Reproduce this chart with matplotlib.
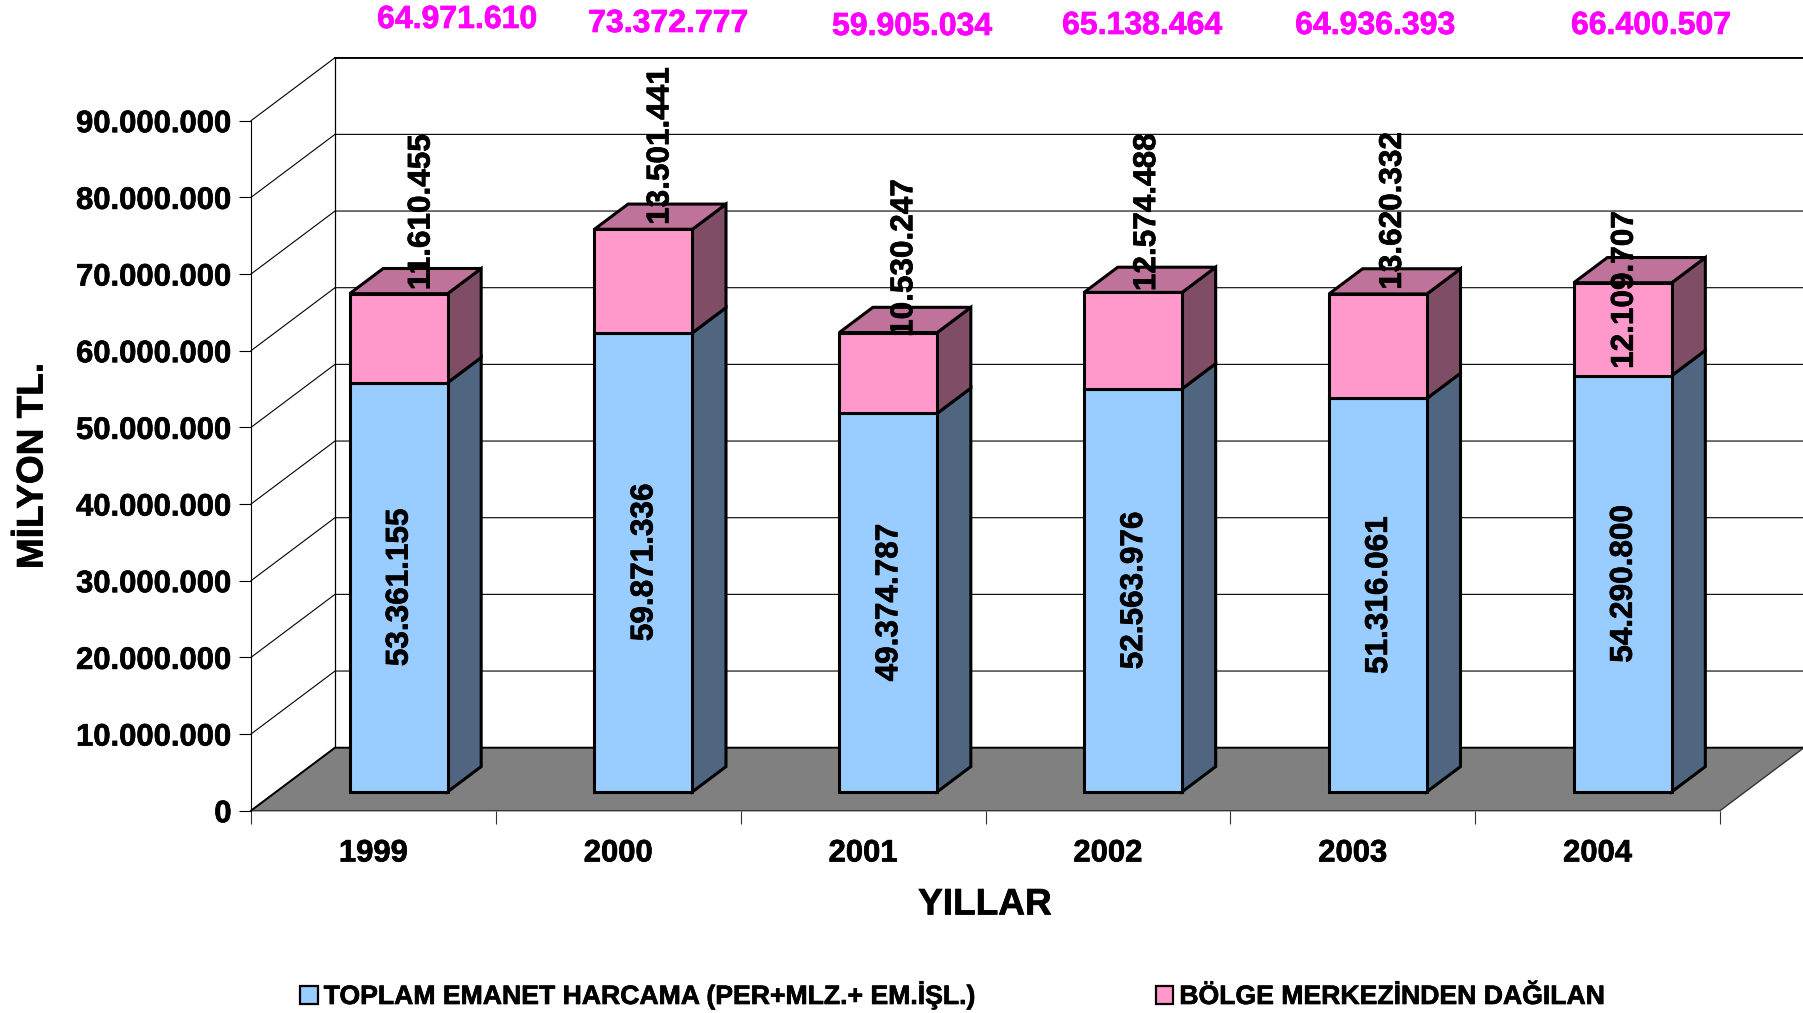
import matplotlib
matplotlib.use("Agg")
import matplotlib.pyplot as plt
import matplotlib.patheffects as pe
from matplotlib.patches import Patch
from matplotlib.text import Text
from matplotlib.ticker import FuncFormatter

years = ['1999', '2000', '2001', '2002', '2003', '2004']
emanet = [53361155, 59871336, 49374787, 52563976, 51316061, 54290800]
bolge = [11610455, 13501441, 10530247, 12574488, 13620332, 12109707]
totals = [64971610, 73372777, 59905034, 65138464, 64936393, 66400507]
y_ticks = list(range(0, 90000001, 10000000))

# 3d look: depth of the floor in axis units, bars take the middle 40%
DEPTH_X = 0.343
DEPTH_Y = 8217000
BAR_WIDTH = 0.4
BAR_START = 0.3
BAR_DEPTH = 0.4

BLUE = ('#99CCFF', '#4F6580')
PINK = ('#FF99CC', '#804D66', '#C0739A')

# hand placed labels in the original, in pixels
pink_label_shift = [23, 17, 16, 14, 15, 2]
pink_label_y = [212, 146, 258, 212, 211, 290]
total_label_x = [457, 668, 912, 1142, 1375, 1651]
total_label_y = [20, 24, 27, 26, 26, 26]

FIG_W, FIG_H = 1803, 1013
PX = 0.72  # points per pixel at dpi 100

plt.rcParams['font.family'] = ['Liberation Sans', 'DejaVu Sans']
plt.rcParams['font.weight'] = 'bold'


def fmt(v):
    return f'{int(v):,}'.replace(',', '.')


def draw_walls(ax):
    dx, dy = DEPTH_X, DEPTH_Y
    n = len(years)
    for v in y_ticks:
        ax.plot([0, dx, n + dx], [v, v + dy, v + dy], color='black', lw=0.8, clip_on=False, zorder=1)
    ax.plot([dx, n + dx], [90000000 + dy, 90000000 + dy], color='black', lw=1.3, clip_on=False, zorder=1)
    ax.plot([dx, dx], [dy, 90000000 + dy], color='black', lw=0.9, clip_on=False, zorder=1)
    ax.fill([0, n, n + dx, dx], [0, 0, dy, dy], facecolor='#808080', edgecolor='none', clip_on=False, zorder=2)
    ax.plot([0, dx, n + dx], [0, dy, dy], color='black', lw=1.4, clip_on=False, zorder=2)
    ax.plot([0, n, n + dx], [0, 0, dy], color='#333333', lw=1.0, clip_on=False, zorder=2)


def draw_side(ax, x1, low, high, color):
    ox = DEPTH_X * BAR_DEPTH
    oy = DEPTH_Y * BAR_DEPTH
    ax.fill([x1, x1 + ox, x1 + ox, x1], [low, low + oy, high + oy, high], facecolor=color,
            edgecolor='black', lw=2.2, joinstyle='miter', clip_on=False, zorder=3)


def draw_bars(ax):
    fig = ax.figure
    ox = DEPTH_X * BAR_DEPTH
    oy = DEPTH_Y * BAR_DEPTH
    base = DEPTH_Y * BAR_START
    for i in range(len(years)):
        x0 = i + 0.5 - BAR_WIDTH / 2 + DEPTH_X * BAR_START
        x1 = x0 + BAR_WIDTH
        top = base + emanet[i] + bolge[i]
        draw_side(ax, x1, base, base + emanet[i], BLUE[1])
        draw_side(ax, x1, base + emanet[i], top, PINK[1])
        ax.fill([x0, x1, x1 + ox, x0 + ox], [top, top, top + oy, top + oy], facecolor=PINK[2],
                edgecolor='black', lw=2.2, joinstyle='miter', clip_on=False, zorder=3)
        ax.bar(x0, emanet[i], BAR_WIDTH, bottom=base, align='edge', color=BLUE[0],
               edgecolor='black', lw=2.2, clip_on=False, zorder=4)
        ax.bar(x0, bolge[i], BAR_WIDTH, bottom=base + emanet[i], align='edge', color=PINK[0],
               edgecolor='black', lw=2.2, clip_on=False, zorder=4)

        ax.annotate(fmt(emanet[i]), xy=(x0 + BAR_WIDTH / 2, base + emanet[i] / 2), xytext=(1 * PX, 0),
                    textcoords='offset points', rotation=90, ha='center', va='center',
                    fontsize=31.5 * PX, color='black', zorder=6)
        tx, _ = ax.transData.transform((x0 + BAR_WIDTH / 2, 0))
        fig.text((tx + pink_label_shift[i]) / FIG_W, 1 - pink_label_y[i] / FIG_H, fmt(bolge[i]),
                 rotation=90, ha='center', va='center', fontsize=31.5 * PX, color='black', zorder=6)


def main():
    fig = plt.figure(figsize=(FIG_W / 100, FIG_H / 100), dpi=100)
    ax = fig.add_axes([251 / FIG_W, (FIG_H - 810.7) / FIG_H, 1469 / FIG_W, 690 / FIG_H])
    ax.set_xlim(0, len(years))
    ax.set_ylim(0, 90000000)
    ax.patch.set_visible(False)
    for name in ['top', 'right', 'bottom']:
        ax.spines[name].set_visible(False)
    ax.spines['left'].set_linewidth(0.8)

    draw_walls(ax)
    draw_bars(ax)

    ax.set_yticks(y_ticks)
    ax.yaxis.set_major_formatter(FuncFormatter(lambda v, p: fmt(v)))
    ax.tick_params(axis='y', length=9, width=0.8, pad=5, labelsize=31 * PX)
    ax.set_xticks(range(len(years) + 1))
    ax.set_xticklabels([])
    ax.tick_params(axis='x', which='major', length=9, width=0.8, color='#333333')
    ax.set_xticks([i + 0.5 for i in range(len(years))], minor=True)
    ax.set_xticklabels(years, minor=True)
    ax.tick_params(axis='x', which='minor', length=0, pad=20, labelsize=31 * PX)

    fig.text(985 / FIG_W, 1 - 905 / FIG_H, 'YILLAR', ha='center', va='center', fontsize=37 * PX)
    fig.text(33 / FIG_W, 1 - 466 / FIG_H, 'MİLYON TL.', rotation=90, ha='center', va='center', fontsize=37 * PX)

    for i, t in enumerate(totals):
        fig.text(total_label_x[i] / FIG_W, 1 - total_label_y[i] / FIG_H, fmt(t), ha='center', va='center',
                 fontsize=32 * PX, color='#FF00FF')

    handles = [Patch(facecolor=BLUE[0], edgecolor='black', lw=1.6, label='TOPLAM EMANET HARCAMA (PER+MLZ.+ EM.İŞL.)'),
               Patch(facecolor=PINK[0], edgecolor='black', lw=1.6, label='BÖLGE MERKEZİNDEN DAĞILAN')]
    fig.legend(handles=handles, ncol=2, loc='lower left', bbox_to_anchor=(300 / FIG_W, 1 - 1010 / FIG_H),
               frameon=False, fontsize=26.6 * PX, handlelength=0.67, handleheight=0.67, handletextpad=0.22,
               columnspacing=6.78, borderpad=0, borderaxespad=0)

    # original text looks heavier than plain bold
    for t in fig.findobj(Text):
        t.set_path_effects([pe.withStroke(linewidth=0.5, foreground=t.get_color())])

    fig.savefig('out.png', dpi=100)


if __name__ == "__main__":
    main()
